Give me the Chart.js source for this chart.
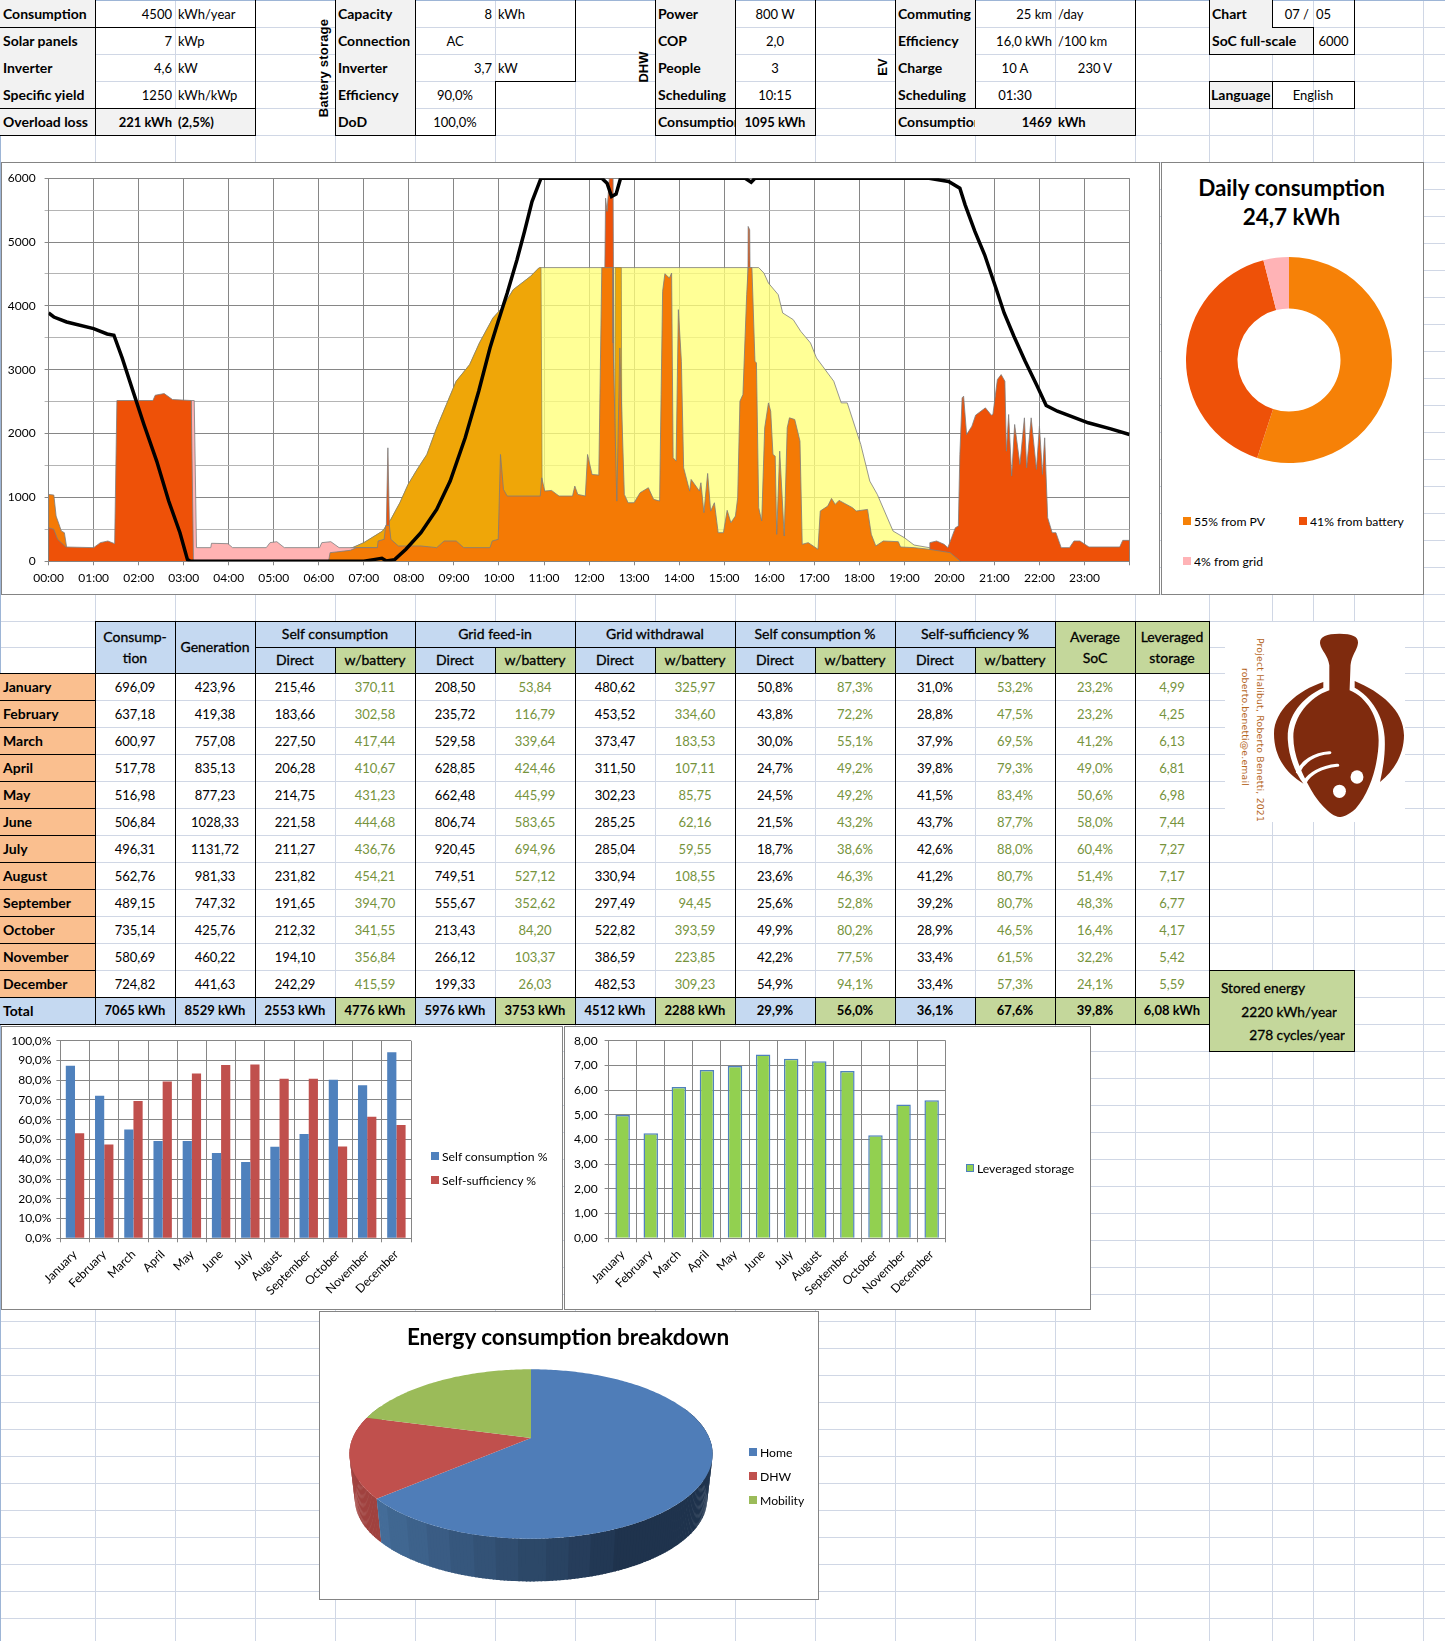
<!DOCTYPE html>
<html>
<head>
<meta charset="utf-8">
<title>Project Halibut</title>
<script src="https://cdn.jsdelivr.net/npm/chart.js@4/dist/chart.umd.min.js"></script>
<style>
    html, body { margin: 0; padding: 0; background: #fff; }
    #sheet { position: relative; width: 1445px; height: 1641px; overflow: hidden; font-family: Lato, sans-serif; font-size: 13px; color: #000; }
    #sheet div { position: absolute; box-sizing: border-box; }
    .txt { white-space: nowrap; overflow: hidden; }
    .frame { background: #fff; border: 1px solid #848484; }
    canvas { position: absolute; }
</style>
</head>
<body>
<div id="sheet"></div>
<script>
// ---- monthly table ----
const months = ["January", "February", "March", "April", "May", "June", "July", "August", "September", "October", "November", "December"];
const consumption = [696.09, 637.18, 600.97, 517.78, 516.98, 506.84, 496.31, 562.76, 489.15, 735.14, 580.69, 724.82];
const generation = [423.96, 419.38, 757.08, 835.13, 877.23, 1028.33, 1131.72, 981.33, 747.32, 425.76, 460.22, 441.63];
const selfDirect = [215.46, 183.66, 227.50, 206.28, 214.75, 221.58, 211.27, 231.82, 191.65, 212.32, 194.10, 242.29];
const selfBattery = [370.11, 302.58, 417.44, 410.67, 431.23, 444.68, 436.76, 454.21, 394.70, 341.55, 356.84, 415.59];
const feedDirect = [208.50, 235.72, 529.58, 628.85, 662.48, 806.74, 920.45, 749.51, 555.67, 213.43, 266.12, 199.33];
const feedBattery = [53.84, 116.79, 339.64, 424.46, 445.99, 583.65, 694.96, 527.12, 352.62, 84.20, 103.37, 26.03];
const gridDirect = [480.62, 453.52, 373.47, 311.50, 302.23, 285.25, 285.04, 330.94, 297.49, 522.82, 386.59, 482.53];
const gridBattery = [325.97, 334.60, 183.53, 107.11, 85.75, 62.16, 59.55, 108.55, 94.45, 393.59, 223.85, 309.23];
const selfPctDirect = [50.8, 43.8, 30.0, 24.7, 24.5, 21.5, 18.7, 23.6, 25.6, 49.9, 42.2, 54.9];
const selfPctBattery = [87.3, 72.2, 55.1, 49.2, 49.2, 43.2, 38.6, 46.3, 52.8, 80.2, 77.5, 94.1];
const suffPctDirect = [31.0, 28.8, 37.9, 39.8, 41.5, 43.7, 42.6, 41.2, 39.2, 28.9, 33.4, 33.4];
const suffPctBattery = [53.2, 47.5, 69.5, 79.3, 83.4, 87.7, 88.0, 80.7, 80.7, 46.5, 61.5, 57.3];
const avgSoc = [23.2, 23.2, 41.2, 49.0, 50.6, 58.0, 60.4, 51.4, 48.3, 16.4, 32.2, 24.1];
const leveraged = [4.99, 4.25, 6.13, 6.81, 6.98, 7.44, 7.27, 7.17, 6.77, 4.17, 5.42, 5.59];
const totals = ["7065 kWh", "8529 kWh", "2553 kWh", "4776 kWh", "5976 kWh", "3753 kWh", "4512 kWh", "2288 kWh", "29,9%", "56,0%", "36,1%", "67,6%", "39,8%", "6,08 kWh"];

// ---- daily profile, minutes after midnight / watts ----
const socTimes = [0, 7, 24, 60, 78, 87, 98, 111, 127, 144, 160, 175, 185, 189, 420, 433, 444, 450, 461, 476, 496, 517, 535, 555, 573, 588, 599, 611, 624, 634, 644, 656, 737, 744, 750, 756, 762, 928, 936, 941, 1173, 1199, 1214, 1221, 1234, 1247, 1262, 1273, 1286, 1301, 1316, 1329, 1344, 1365, 1385, 1415, 1440];
const socValues = [3889, 3826, 3748, 3644, 3560, 3540, 3185, 2716, 2142, 1570, 944, 448, 26, 0, 0, 26, 47, 5, 26, 188, 448, 813, 1256, 1934, 2664, 3341, 3759, 4202, 4723, 5166, 5635, 6000, 6000, 5922, 5714, 5750, 6000, 6000, 5938, 6000, 6000, 5948, 5844, 5583, 5166, 4801, 4280, 3889, 3524, 3133, 2768, 2440, 2351, 2257, 2169, 2075, 1986];

const pvTimes = [373, 375, 387, 405, 420, 445, 456, 468, 479, 491, 504, 517, 530, 543, 561, 574, 592, 604, 619, 642, 653, 656, 946, 953, 959, 972, 978, 992, 1002, 1015, 1023, 1046, 1056, 1064, 1082, 1094, 1104, 1125, 1140, 1153, 1173, 1201, 1215];
const pvValues = [0, 109, 151, 214, 292, 474, 657, 917, 1204, 1439, 1673, 2090, 2455, 2820, 3081, 3420, 3811, 3967, 4254, 4462, 4593, 4600, 4600, 4514, 4358, 4176, 3889, 3785, 3602, 3420, 3185, 2820, 2481, 2481, 1830, 1256, 1048, 474, 370, 255, 214, 136, 0];

const chargeTimes = [373, 375, 387, 405, 420, 445, 456, 468, 479, 491, 504, 517, 530, 543, 561, 574, 592, 604, 619, 642, 653, 656, 658, 754, 755, 763, 764];
const chargeValues = [0, 109, 151, 214, 292, 474, 657, 917, 1204, 1439, 1673, 2090, 2455, 2820, 3081, 3420, 3811, 3967, 4254, 4462, 4593, 4600, 0, 0, 4600, 4600, 0];

const gridTimes = [190, 190, 194, 197, 216, 217, 239, 245, 290, 295, 304, 314, 361, 364, 376, 387, 438, 440];
const gridValues = [0, 2518, 2518, 214, 214, 282, 276, 214, 214, 292, 307, 214, 214, 292, 307, 214, 214, 0];

const directTimes = [0, 0, 7, 10, 17, 21, 24, 25, 373, 375, 402, 410, 438, 439, 447, 449, 454, 456, 466, 476, 496, 517, 527, 543, 553, 588, 591, 599, 602, 606, 611, 655, 657, 661, 670, 680, 698, 701, 705, 715, 718, 724, 733, 737, 752, 752, 757, 761, 767, 772, 780, 788, 799, 806, 814, 816, 818, 821, 827, 830, 832, 836, 839, 843, 846, 854, 856, 867, 869, 873, 878, 882, 887, 892, 899, 904, 909, 915, 918, 921, 925, 930, 932, 937, 941, 943, 946, 950, 954, 959, 962, 965, 968, 970, 974, 980, 984, 987, 994, 1001, 1004, 1012, 1025, 1028, 1038, 1043, 1048, 1053, 1071, 1076, 1091, 1096, 1102, 1112, 1132, 1135, 1153, 1173, 1201, 1215];
const directValues = [0, 1048, 1037, 709, 474, 448, 224, 0, 0, 135, 172, 214, 214, 318, 344, 560, 560, 344, 240, 240, 240, 214, 318, 318, 214, 214, 318, 344, 1673, 1126, 1022, 1022, 1308, 1100, 1110, 1022, 1022, 1178, 1048, 1022, 1673, 1360, 1350, 4600, 4600, 3420, 943, 3341, 1048, 917, 917, 1074, 1152, 970, 944, 2612, 4228, 4504, 4436, 4514, 1621, 1569, 3941, 3133, 1465, 1100, 1282, 1100, 1230, 761, 1376, 787, 917, 448, 448, 798, 605, 709, 996, 2507, 2612, 4176, 4600, 4600, 3133, 3107, 839, 631, 2090, 2481, 2351, 1673, 1647, 422, 1725, 396, 2090, 2247, 2221, 1882, 266, 292, 188, 787, 865, 985, 891, 954, 839, 787, 813, 422, 240, 318, 307, 224, 214, 188, 136, 0];

const batteryTimes = [449, 452, 455, 737, 742, 744, 747, 752, 754, 930, 932, 934, 938, 1173, 1174, 1183, 1193, 1198, 1203, 1208, 1212, 1214, 1217, 1219, 1223, 1230, 1235, 1248, 1256, 1258, 1264, 1269, 1274, 1276, 1279, 1283, 1287, 1294, 1300, 1303, 1309, 1316, 1320, 1324, 1327, 1331, 1337, 1342, 1349, 1360, 1366, 1374, 1386, 1414, 1427, 1431, 1440];
const batteryValues = [0, 1777, 0, 0, 5687, 5479, 6000, 6000, 0, 0, 5244, 5192, 0, 0, 292, 318, 266, 214, 370, 526, 553, 1673, 2560, 2586, 1986, 2116, 2289, 2403, 2289, 2299, 2846, 2924, 2820, 1725, 2299, 1335, 2143, 1517, 2247, 1465, 2247, 1439, 2116, 1361, 1934, 683, 448, 448, 214, 214, 318, 318, 224, 224, 224, 328, 328];

const nightTimes = [0, 0, 7, 12, 23, 60, 69, 79, 88, 91, 139, 142, 154, 165, 190, 193];
const nightValues = [0, 526, 500, 344, 224, 214, 292, 318, 276, 2518, 2518, 2601, 2627, 2534, 2518, 0];

// ---- small charts ----
const dailyLabels = ["55% from PV", "41% from battery", "4% from grid"];
const dailyShares = [55, 41, 4];
const breakdownLabels = ["Home", "DHW", "Mobility"];
const breakdownKwh = [4500, 1095, 1469];

Chart.defaults.font.family = "Lato";
Chart.defaults.font.size = 12;
Chart.defaults.color = "#000";
Chart.defaults.animation = false;
Chart.defaults.plugins.legend.display = false;
Chart.defaults.plugins.tooltip.enabled = false;

const sheet = document.getElementById("sheet");
const GRID = "#D0D7E5";
const BLUE = "#C5D9F1";
const GREEN = "#C4D79B";
const OLIVE = "#76933C";
const PANEL = "#F2F2F2";
const AXIS = "#868686";

function box(x1, y1, x2, y2, bg, z) {
    const d = document.createElement("div");
    d.style.cssText = `left:${x1}px;top:${y1}px;width:${x2 - x1}px;height:${y2 - y1}px;background:${bg};z-index:${z || 1}`;
    sheet.appendChild(d);
    return d;
}

function hline(x1, x2, y, color, z) { return box(x1, y, x2 + 1, y + 1, color || "#000", z || 3); }
function vline(x, y1, y2, color, z) { return box(x, y1, x + 1, y2 + 1, color || "#000", z || 3); }

function text(x1, y1, x2, y2, str, opts) {
    opts = opts || {};
    const d = document.createElement("div");
    d.className = "txt";
    d.textContent = str;
    const pad = opts.pad === undefined ? 3 : opts.pad;
    const dy = opts.dy === undefined ? 1 : opts.dy;
    d.style.cssText = `left:${x1}px;top:${y1 + dy}px;width:${x2 - x1}px;height:${y2 - y1}px;line-height:${y2 - y1}px;` +
        `text-align:${opts.align || "left"};padding:0 ${pad}px;z-index:4;` +
        `font-weight:${opts.bold ? 700 : 400};color:${opts.color || "#000"};font-size:${opts.size || 13}px;` +
        (opts.heavy ? "-webkit-text-stroke:0.3px #000;" : "");
    sheet.appendChild(d);
    return d;
}

function turned(cx, cy, str, deg, css) {
    const d = document.createElement("div");
    d.className = "txt";
    d.textContent = str;
    d.style.cssText = `left:${cx - 120}px;top:${cy - 10}px;width:240px;height:20px;text-align:center;z-index:4;transform:rotate(${deg}deg);${css};line-height:20px`;
    sheet.appendChild(d);
}

function comma(v, digits) { return v.toFixed(digits).replace(".", ","); }

// ---- spreadsheet grid ----
const colX = [95, 175, 255, 335, 415, 495, 575, 655, 735, 815, 895, 975, 1055, 1135, 1209, 1272, 1313, 1354, 1423];
const rowY = [];
for (let k = 1; k <= 23; k++) rowY.push(27 * k);
rowY.push(647);
for (let y = 673; y < 1641; y += 27) rowY.push(y);

colX.forEach(x => vline(x, 0, 1641, GRID, 1));
rowY.forEach(y => hline(0, 1445, y, GRID, 1));
hline(0, 1445, 0, "#9DB5D6", 1);
vline(0, 0, 1641, "#9DB5D6", 1);
box(1209, 0, 1272, 1, "#F5A623", 2);

// ---- input blocks at the top ----
function panelRow(x1, x2, r, label) {
    box(x1, r * 27, x2, r * 27 + 27, PANEL, 2);
    text(x1, r * 27, x2, r * 27 + 27, label, { bold: true, size: 14, dy: 0 });
}

const plantLabels = ["Consumption", "Solar panels", "Inverter", "Specific yield", "Overload loss"];
const plantValues = ["4500", "7", "4,6", "1250"];
const plantUnits = ["kWh/year", "kWp", "kW", "kWh/kWp"];
plantLabels.forEach((l, i) => panelRow(0, 95, i, l));
plantValues.forEach((v, i) => {
    text(95, i * 27, 175, i * 27 + 27, v, { align: "right" });
    text(175, i * 27, 255, i * 27 + 27, plantUnits[i]);
});
box(95, 108, 255, 135, PANEL, 2);
text(95, 108, 175, 135, "221 kWh", { align: "right", bold: true });
text(175, 108, 255, 135, "(2,5%)", { bold: true });
vline(95, 0, 135); vline(255, 0, 135);
hline(0, 255, 27); hline(0, 255, 108); hline(0, 255, 135);

const batteryLabels = ["Capacity", "Connection", "Inverter", "Efficiency", "DoD"];
batteryLabels.forEach((l, i) => panelRow(335, 415, i, l));
text(415, 0, 495, 27, "8", { align: "right" }); text(495, 0, 575, 27, "kWh");
text(415, 27, 495, 54, "AC", { align: "center" });
text(415, 54, 495, 81, "3,7", { align: "right" }); text(495, 54, 575, 81, "kW");
text(415, 81, 495, 108, "90,0%", { align: "center" });
text(415, 108, 495, 135, "100,0%", { align: "center" });
vline(335, 0, 135); vline(415, 0, 135); vline(575, 0, 81); vline(495, 81, 135);
hline(495, 575, 81); hline(335, 495, 135);
turned(323.5, 68, "Battery storage", -90, "font:bold 13px 'Liberation Sans';letter-spacing:.2px");

const dhwLabels = ["Power", "COP", "People", "Scheduling", "Consumption"];
const dhwValues = ["800 W", "2,0", "3", "10:15"];
dhwLabels.forEach((l, i) => panelRow(655, 735, i, l));
dhwValues.forEach((v, i) => text(735, i * 27, 815, i * 27 + 27, v, { align: "center" }));
box(735, 108, 815, 135, PANEL, 2);
text(735, 108, 815, 135, "1095 kWh", { align: "center", bold: true });
vline(655, 0, 135); vline(735, 0, 135); vline(815, 0, 135);
hline(655, 815, 108); hline(655, 815, 135);
turned(644, 67, "DHW", -90, "font:bold 13px 'Liberation Sans'");

const evLabels = ["Commuting", "Efficiency", "Charge", "Scheduling", "Consumption"];
evLabels.forEach((l, i) => panelRow(895, 975, i, l));
text(975, 0, 1055, 27, "25 km", { align: "right" }); text(1055, 0, 1135, 27, "/day");
text(975, 27, 1055, 54, "16,0 kWh", { align: "right" }); text(1055, 27, 1135, 54, "/100 km");
text(975, 54, 1055, 81, "10 A", { align: "center" }); text(1055, 54, 1135, 81, "230 V", { align: "center" });
text(975, 81, 1055, 108, "01:30", { align: "center" });
box(975, 108, 1135, 135, PANEL, 2);
text(975, 108, 1055, 135, "1469", { align: "right", bold: true }); text(1055, 108, 1135, 135, "kWh", { bold: true });
vline(895, 0, 135); vline(975, 0, 108); vline(1135, 0, 135);
hline(895, 1135, 108); hline(895, 1135, 135);
turned(883, 67, "EV", -90, "font:bold 13px 'Liberation Sans'");

box(1209, 0, 1272, 27, PANEL, 2); box(1209, 27, 1313, 54, PANEL, 2); box(1209, 81, 1272, 108, PANEL, 2);
text(1209, 0, 1272, 27, "Chart", { bold: true, size: 14, dy: 0 });
text(1272, 0, 1313, 27, "07 /", { align: "right", pad: 4 });
text(1313, 0, 1354, 27, "05", { pad: 3 });
text(1209, 27, 1313, 54, "SoC full-scale", { bold: true, size: 14, dy: 0 });
text(1313, 27, 1354, 54, "6000", { align: "center", pad: 0 });
text(1209, 81, 1272, 108, "Language", { bold: true, size: 14, pad: 2, dy: 0 });
text(1272, 81, 1354, 108, "English", { align: "center" });
vline(1209, 0, 54); vline(1354, 0, 54); vline(1272, 0, 27); vline(1313, 27, 54);
hline(1272, 1313, 27); hline(1209, 1354, 54);
hline(1209, 1354, 81); hline(1209, 1354, 108);
vline(1209, 81, 108); vline(1272, 81, 108); vline(1354, 81, 108);

// ---- monthly table ----
const T_TOP = 621, T_MID = 647, T_HEAD = 673, T_ROW = 27;
const T_TOTAL = T_HEAD + T_ROW * 12, T_END = T_TOTAL + T_ROW;
const HEAD = { align: "center", pad: 0, size: 14, heavy: true, dy: 0 };

function twoLine(x1, x2, a, b) {
    text(x1, 624, x2, 650, a, HEAD);
    text(x1, 645, x2, 671, b, HEAD);
}

box(95, T_TOP, 1055, T_HEAD, BLUE, 2);
box(1055, T_TOP, 1209, T_HEAD, GREEN, 2);
twoLine(95, 175, "Consump-", "tion");
text(175, T_TOP, 255, T_HEAD, "Generation", HEAD);
twoLine(1055, 1135, "Average", "SoC");
twoLine(1135, 1209, "Leveraged", "storage");

const groupNames = ["Self consumption", "Grid feed-in", "Grid withdrawal", "Self consumption %", "Self-sufficiency %"];
groupNames.forEach((name, g) => {
    const x = 255 + g * 160;
    text(x, T_TOP, x + 160, T_MID, name, HEAD);
    box(x + 80, T_MID, x + 160, T_HEAD, GREEN, 2);
    text(x, T_MID, x + 80, T_HEAD, "Direct", HEAD);
    text(x + 80, T_MID, x + 160, T_HEAD, "w/battery", HEAD);
    hline(x, x + 160, T_MID);
    vline(x + 80, T_MID, T_HEAD);
});

const tableColumns = [
    { x: 95, v: consumption, d: 2 },
    { x: 175, v: generation, d: 2 },
    { x: 255, v: selfDirect, d: 2 },
    { x: 335, v: selfBattery, d: 2, olive: true },
    { x: 415, v: feedDirect, d: 2 },
    { x: 495, v: feedBattery, d: 2, olive: true },
    { x: 575, v: gridDirect, d: 2 },
    { x: 655, v: gridBattery, d: 2, olive: true },
    { x: 735, v: selfPctDirect, d: 1, pct: true },
    { x: 815, v: selfPctBattery, d: 1, pct: true, olive: true },
    { x: 895, v: suffPctDirect, d: 1, pct: true },
    { x: 975, v: suffPctBattery, d: 1, pct: true, olive: true },
    { x: 1055, v: avgSoc, d: 1, pct: true, olive: true },
    { x: 1135, v: leveraged, d: 2, olive: true, end: 1209 }
];

months.forEach((m, r) => {
    const y = T_HEAD + r * T_ROW;
    box(0, y, 95, y + T_ROW, "#FABF8F", 2);
    text(0, y, 95, y + T_ROW, m, { bold: true, size: 14, dy: 0 });
    hline(0, 95, y + T_ROW);
    tableColumns.forEach(c => {
        const label = comma(c.v[r], c.d) + (c.pct ? "%" : "");
        text(c.x, y, c.end || c.x + 80, y + T_ROW, label, { align: "center", pad: 0, color: c.olive ? OLIVE : "#000" });
    });
});

box(0, T_TOTAL, 1209, T_END, BLUE, 2);
text(0, T_TOTAL, 95, T_END, "Total", { bold: true, size: 14, dy: 0 });
tableColumns.forEach((c, i) => {
    const end = c.end || c.x + 80;
    if (c.olive) box(c.x, T_TOTAL, end, T_END, GREEN, 2);
    text(c.x, T_TOTAL, end, T_END, totals[i], { align: "center", pad: 0, bold: true, dy: 0 });
    vline(c.x, T_TOTAL, T_END);
});

[95, 175, 255, 415, 575, 735, 895, 1055, 1135, 1209].forEach(x => vline(x, T_TOP, T_END));
hline(95, 1209, T_TOP);
hline(0, 1209, T_HEAD);
hline(0, 1209, T_TOTAL);
hline(0, 1209, T_END);

box(1209, 970, 1354, 1051, GREEN, 2);
hline(1209, 1354, 970); hline(1209, 1354, 1051); vline(1354, 970, 1051); vline(1209, 1024, 1051);
text(1221, 976, 1354, 1000, "Stored energy", { heavy: true, size: 13.7, pad: 0, dy: 0 });
text(1209, 1000, 1337, 1024, "2220 kWh/year", { heavy: true, size: 13.7, align: "right", pad: 0, dy: 0 });
text(1209, 1023, 1345, 1047, "278 cycles/year", { heavy: true, size: 13.7, align: "right", pad: 0, dy: 0 });

// ---- logo block ----
box(1225, 622, 1405, 822, "#fff", 2);
const logo = document.createElement("div");
logo.style.cssText = "left:1274px;top:633px;width:130px;height:184px;z-index:4";
logo.innerHTML = `<svg width="130" height="184" viewBox="1198 68 282 552" preserveAspectRatio="none">
  <path fill="#7F2B0E" d="M1340 70C1370 70 1382 80 1380 100C1378 120 1366 135 1364 165L1362 240C1400 262 1425 320 1425 390C1425 450 1410 540 1375 595C1360 615 1345 620 1340 620C1320 618 1290 570 1275 530C1255 480 1240 430 1240 380C1240 320 1275 260 1318 240L1318 165C1316 135 1300 120 1298 100C1296 80 1310 70 1340 70Z"/>
  <path fill="#7F2B0E" d="M1305 215L1305 232C1255 265 1225 320 1228 390C1230 440 1245 490 1262 520C1225 490 1198 440 1198 370C1198 300 1250 240 1305 215Z"/>
  <path fill="#7F2B0E" d="M1373 212C1430 245 1480 300 1480 375C1480 430 1460 480 1428 515C1435 470 1440 430 1438 380C1436 320 1410 260 1373 232Z"/>
  <path fill="none" stroke="#fff" stroke-width="9" stroke-linecap="round" d="M1318 427C1285 430 1260 455 1250 485M1335 465C1300 470 1275 490 1265 515"/>
  <ellipse cx="1340" cy="543" rx="14" ry="20" fill="#fff"/><ellipse cx="1378" cy="500" rx="14" ry="20" fill="#fff"/>
</svg>`;
sheet.appendChild(logo);
turned(1260, 730, "Project Halibut, Roberto Benetti, 2021", 90, "font:9.3px 'DejaVu Sans';color:#B5651D;letter-spacing:.2px");
turned(1245, 727, "roberto.benetti@e.email", 90, "font:9.3px 'DejaVu Sans';color:#B5651D;letter-spacing:.2px");

// ---- chart helpers ----
function frame(x1, y1, x2, y2) {
    const f = document.createElement("div");
    f.className = "frame";
    f.style.cssText = `left:${x1}px;top:${y1}px;width:${x2 - x1 + 1}px;height:${y2 - y1 + 1}px;z-index:5`;
    sheet.appendChild(f);
}

function chartCanvas(x, y, w, h) {
    const c = document.createElement("canvas");
    c.width = w;
    c.height = h;
    c.style.cssText = `left:${x}px;top:${y}px;width:${w}px;height:${h}px;z-index:6`;
    sheet.appendChild(c);
    return c;
}

function overlayText(x1, y1, x2, y2, str, opts) {
    const d = text(x1, y1, x2, y2, str, Object.assign({ dy: 0 }, opts));
    d.style.zIndex = 7;
    return d;
}

function legendItem(x, cy, color, label, border) {
    const b = box(x, cy - 4, x + 8, cy + 4, color, 7);
    if (border) b.style.border = "1px solid " + border;
    overlayText(x + 11, cy - 9, x + 150, cy + 9, label, { pad: 0, size: 12.2, dy: 1 });
}

function toPoints(times, values) {
    return times.map((t, i) => ({ x: t, y: values[i] }));
}

function area(times, values, fill, edge) {
    return {
        data: toPoints(times, values),
        backgroundColor: fill,
        borderColor: edge || "rgba(125,125,125,0.8)",
        borderWidth: 1,
        fill: "origin",
        pointRadius: 0,
        tension: 0
    };
}

function hourLabel(v) {
    if (v >= 1440) return "";
    return String(v / 60).padStart(2, "0") + ":00";
}

// ---- daily profile chart ----
frame(1, 162, 1159, 594);
new Chart(chartCanvas(1, 162, 1158, 432), {
    type: "line",
    data: {
        datasets: [
            { data: toPoints(socTimes, socValues), borderColor: "#000", borderWidth: 3.5, fill: false, pointRadius: 0, tension: 0 },
            area(nightTimes, nightValues, "#EE5108"),
            area(directTimes, directValues, "#F47A05"),
            area(batteryTimes, batteryValues, "#EE5108"),
            area(gridTimes, gridValues, "#FFB3B3"),
            area(chargeTimes, chargeValues, "#EFA608", "rgba(140,130,90,0.7)"),
            area(pvTimes, pvValues, "rgba(255,255,120,0.78)")
        ]
    },
    options: {
        responsive: false,
        layout: { padding: { top: 13.7, right: 29.5, left: 0, bottom: 0 } },
        scales: {
            x: {
                type: "linear", min: 0, max: 1440,
                afterFit(s) { s.height = 32.7; },
                grid: { color: AXIS, tickLength: 4 },
                border: { color: AXIS, width: 2 },
                ticks: { stepSize: 60, autoSkip: false, maxRotation: 0, padding: 6, callback: hourLabel }
            },
            y: {
                min: 0, max: 6000,
                afterFit(s) { s.width = 47.6; },
                grid: { color: c => (c.tick.value % 1000 === 0 ? AXIS : "#B4B4B4"), tickLength: 4 },
                border: { color: AXIS },
                ticks: { stepSize: 500, padding: 9, callback: v => (v % 1000 === 0 ? String(v) : "") }
            }
        }
    }
});

// ---- daily consumption donut ----
frame(1161, 162, 1423, 594);
overlayText(1162, 174, 1421, 202, "Daily consumption", { align: "center", bold: true, size: 22.5, pad: 0 });
overlayText(1162, 203, 1421, 231, "24,7 kWh", { align: "center", bold: true, size: 22.5, pad: 0 });
const dailyColors = ["#F68107", "#EE5108", "#FFB3B6"];
new Chart(chartCanvas(1186, 257, 206, 206), {
    type: "doughnut",
    data: { labels: dailyLabels, datasets: [{ data: dailyShares, backgroundColor: dailyColors, borderWidth: 0 }] },
    options: { responsive: false, cutout: "50%", layout: { padding: 0 } }
});
legendItem(1183, 521, dailyColors[0], dailyLabels[0]);
legendItem(1299, 521, dailyColors[1], dailyLabels[1]);
legendItem(1183, 561, dailyColors[2], dailyLabels[2]);

// ---- monthly bars ----
function barOptions(yWidth, rightPad, yMax, yStep, yLabel, yPad) {
    return {
        responsive: false,
        layout: { padding: { top: 14.7, right: rightPad, left: 0, bottom: 0 } },
        scales: {
            x: {
                afterFit(s) { s.height = 70.7; },
                grid: { color: AXIS, tickLength: 4 },
                border: { color: AXIS },
                ticks: { autoSkip: false, minRotation: 45, maxRotation: 45, padding: 5 }
            },
            y: {
                min: 0, max: yMax,
                afterFit(s) { s.width = yWidth; },
                grid: { color: AXIS, tickLength: 4 },
                border: { color: AXIS },
                ticks: { stepSize: yStep, padding: yPad, callback: yLabel }
            }
        }
    };
}

frame(1, 1026, 562, 1309);
new Chart(chartCanvas(1, 1026, 561, 283), {
    type: "bar",
    data: {
        labels: months,
        datasets: [
            { label: "Self consumption %", data: selfPctBattery, backgroundColor: "#4F81BD", categoryPercentage: 0.63, barPercentage: 1 },
            { label: "Self-sufficiency %", data: suffPctBattery, backgroundColor: "#C0504D", categoryPercentage: 0.63, barPercentage: 1 }
        ]
    },
    options: barOptions(59.4, 151, 100, 10, v => comma(v, 1) + "%", 5)
});
legendItem(431, 1156, "#4F81BD", "Self consumption %");
legendItem(431, 1180, "#C0504D", "Self-sufficiency %");

frame(564, 1026, 1090, 1309);
new Chart(chartCanvas(564, 1026, 526, 283), {
    type: "bar",
    data: {
        labels: months,
        datasets: [
            { label: "Leveraged storage", data: leveraged, backgroundColor: "#92D050", borderColor: "#4F81BD", borderWidth: 1.5, categoryPercentage: 0.515, barPercentage: 1 }
        ]
    },
    options: barOptions(44.6, 144.3, 8, 1, v => comma(v, 2), 7)
});
legendItem(966, 1168, "#92D050", "Leveraged storage", "#4F81BD");

// ---- 3D pie: the pie's arc angles are projected through a perspective tilt ----
const TILT = { cx: 212, cy: 127, a: 178.3, b: 81.7, p: -0.189, depth: 45.7, shrink: 0.97 };

function project(theta, lower) {
    const x = Math.cos(theta), y = Math.sin(theta);
    const w = 1 + TILT.p * y;
    const s = lower ? TILT.shrink : 1;
    return { x: TILT.cx + s * TILT.a * x / w, y: TILT.cy + (lower ? TILT.depth : 0) + s * TILT.b * y / w };
}

function wallColor(i, theta) {
    if (i === 1) return "#A0423F";
    if (i === 2) return "#76903F";
    let t = (Math.cos(theta) + 0.85) / 1.3;
    t = Math.round(Math.max(0, Math.min(1, t)) * 12) / 12;
    const from = [71, 113, 159], to = [31, 51, 77];
    return "rgb(" + from.map((c, k) => Math.round(c + (to[k] - c) * t)).join(",") + ")";
}

const tiltPie = {
    id: "tiltPie",
    beforeDatasetsDraw(chart) {
        const ctx = chart.ctx;
        const arcs = chart.getDatasetMeta(0).data;
        const strips = [];
        arcs.forEach((arc, i) => {
            const step = Math.PI / 180;
            for (let t = arc.startAngle; t < arc.endAngle; t += step) {
                if (Math.sin(t) > -0.4) strips.push({ i: i, t: t, t2: Math.min(t + step * 1.4, arc.endAngle) });
            }
        });
        strips.sort((a, b) => Math.sin(a.t) - Math.sin(b.t));
        strips.forEach(s => {
            const p1 = project(s.t, false), p2 = project(s.t2, false), p3 = project(s.t2, true), p4 = project(s.t, true);
            ctx.fillStyle = wallColor(s.i, s.t);
            ctx.beginPath();
            ctx.moveTo(p1.x, p1.y); ctx.lineTo(p2.x, p2.y); ctx.lineTo(p3.x, p3.y); ctx.lineTo(p4.x, p4.y);
            ctx.closePath();
            ctx.fill();
        });
        arcs.forEach(arc => {
            ctx.fillStyle = arc.options.backgroundColor;
            ctx.beginPath();
            ctx.moveTo(TILT.cx, TILT.cy);
            const n = Math.ceil((arc.endAngle - arc.startAngle) * 60);
            for (let k = 0; k <= n; k++) {
                const p = project(arc.startAngle + (arc.endAngle - arc.startAngle) * k / n, false);
                ctx.lineTo(p.x, p.y);
            }
            ctx.closePath();
            ctx.fill();
        });
        return false;
    }
};

frame(319, 1311, 818, 1599);
overlayText(320, 1322, 816, 1352, "Energy consumption breakdown", { align: "center", bold: true, size: 22.5, pad: 0 });
const breakdownColors = ["#4F7DB8", "#C0504D", "#9BBB59"];
new Chart(chartCanvas(319, 1311, 499, 288), {
    type: "pie",
    data: { labels: breakdownLabels, datasets: [{ data: breakdownKwh, backgroundColor: breakdownColors, borderWidth: 0 }] },
    options: { responsive: false },
    plugins: [tiltPie]
});
breakdownLabels.forEach((l, i) => legendItem(749, 1452 + i * 24, breakdownColors[i], l));
</script>
</body>
</html>
